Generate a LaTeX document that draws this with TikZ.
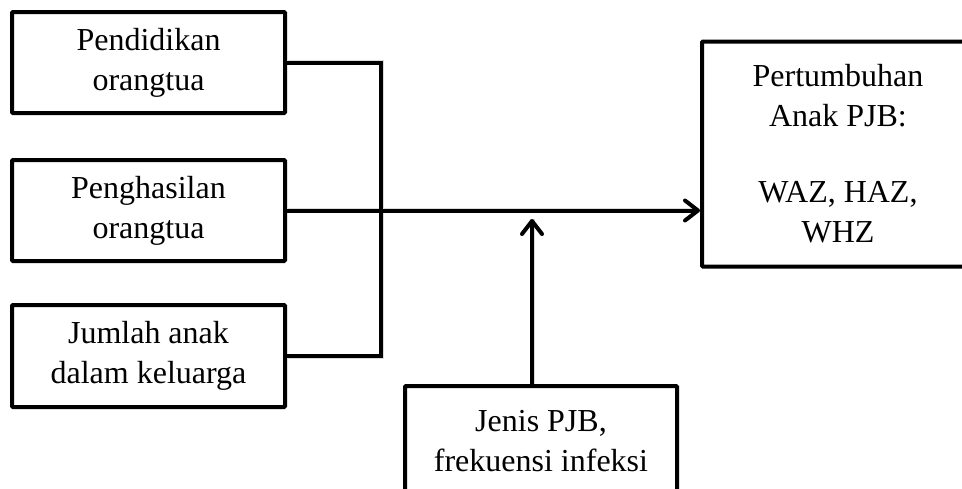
\documentclass[tikz,border=0pt]{standalone}
\usepackage{fontspec}
\setmainfont{Liberation Serif}
\usetikzlibrary{arrows.meta}
\begin{document}
\begin{tikzpicture}[x=1pt,y=-1pt,
  box/.style={draw=black, line width=4pt, fill=white, align=center,
    font=\fontsize{32}{40}\selectfont, inner sep=0pt, rounded corners=1pt},
  link/.style={line width=4pt, line join=miter},
  shade/.style={line width=5pt, draw=black!14},
  tip/.style={-{Straight Barb[length=13pt,width=20pt,line cap=round,line join=round]}}]
\useasboundingbox (0,0) rectangle (962,488);

% factor boxes
\node[box, minimum width=273pt, minimum height=101pt] (edu) at (148.5,62.5) {Pendidikan\\orangtua};
\node[box, minimum width=273pt, minimum height=101pt] (inc) at (148.5,210.5) {Penghasilan\\orangtua};
\node[box, minimum width=273pt, minimum height=102pt] (kids) at (148.5,356) {Jumlah anak\\dalam keluarga};

% outcome box (runs past the right edge)
\node[box, minimum width=272pt, minimum height=225pt] (out) at (838,154)
  {Pertumbuhan\\Anak PJB:\\[36pt]WAZ, HAZ,\\WHZ};

% moderating box (runs past the bottom edge)
\node[box, minimum width=272pt, minimum height=110pt] (mod) at (541,441)
  {Jenis PJB,\\frekuensi infeksi};

\coordinate (bend) at (381,62.5);
\coordinate (hit) at (532,219);

% soft shadows of the connectors
\begin{scope}[shift={(2.5,2.5)}]
  \draw[shade] (edu.east) -- (bend) |- (kids.east);
  \draw[shade] (inc.east) -- ([xshift=-4pt]inc.east -| out.west);
  \draw[shade] (mod.north -| hit) -- (hit);
\end{scope}

% connectors
\draw[link] (edu.east) -- (bend) |- (kids.east);
\draw[link, tip] (inc.east) -- (inc.east -| out.west);
\draw[link, tip] (mod.north -| hit) -- (hit);
\end{tikzpicture}
\end{document}
